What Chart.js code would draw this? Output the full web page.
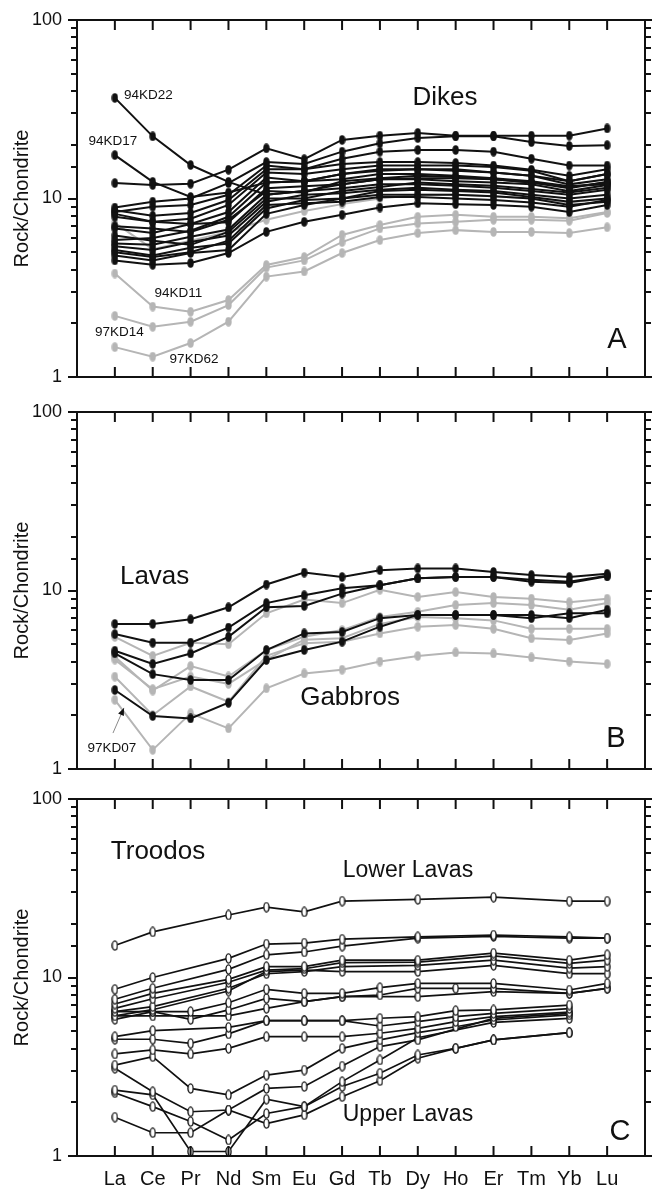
<!DOCTYPE html>
<html><head><meta charset="utf-8">
<script src="https://cdn.jsdelivr.net/npm/chart.js@4/dist/chart.umd.min.js"></script>
<style>
html,body{margin:0;padding:0;background:#fff;}
#wrap{position:relative;width:652px;height:1191px;overflow:hidden;background:#fff;}
.pn{position:absolute;left:0;width:652px;}
canvas{display:block;}
</style></head><body>
<div id="wrap">
<div class="pn" style="top:0;height:392px"><canvas id="cA" width="652" height="392"></canvas></div>
<div class="pn" style="top:392px;height:390px"><canvas id="cB" width="652" height="390"></canvas></div>
<div class="pn" style="top:782px;height:409px"><canvas id="cC" width="652" height="409"></canvas></div>
</div>
<script>
// ---------- categories / ticks ----------
const REE = ['La','Ce','Pr','Nd','Sm','Eu','Gd','Tb','Dy','Ho','Er','Tm','Yb','Lu'];
const Y_LABELS = [1, 10, 100];

// ---------- Panel A : Dikes ----------
const dikesBlack = [
  [36.6, 22.3, 15.4, 12.4, 10.5, 11.0, 12.0, 12.8, 13.0, 13.0, 12.8, 12.3, 11.6, 12.3], // 94KD22
  [17.5, 12.4, 10.2, 10.8, 12.3, 12.5, 13.7, 14.3, 14.6, 14.3, 14.0, 13.4, 12.5, 13.7], // 94KD17
  [12.2, 11.9, 12.1, 14.5, 19.1, 16.6, 21.3, 22.5, 23.3, 22.5, 22.5, 22.5, 22.5, 24.7],
  [8.9, 9.6, 10.0, 12.2, 16.0, 15.6, 18.3, 20.4, 21.8, 22.3, 22.3, 20.7, 19.7, 19.9],
  [8.4, 9.0, 9.2, 10.5, 15.3, 14.6, 16.7, 18.3, 18.7, 18.7, 18.3, 16.7, 15.3, 15.3],
  [8.6, 8.0, 8.3, 9.8, 14.6, 14.6, 15.6, 16.0, 16.0, 15.8, 15.3, 14.5, 13.4, 14.6],
  [8.2, 7.4, 7.7, 9.2, 14.0, 13.7, 14.6, 15.3, 15.3, 15.3, 15.0, 14.3, 12.5, 13.7],
  [6.8, 6.4, 7.2, 8.4, 13.1, 12.5, 13.7, 14.6, 14.6, 14.6, 14.0, 13.4, 12.0, 12.8],
  [5.85, 6.0, 6.6, 7.9, 12.3, 12.5, 12.8, 13.7, 13.7, 13.4, 13.0, 12.5, 11.7, 12.0],
  [7.9, 7.4, 7.2, 7.35, 11.4, 11.7, 12.0, 12.8, 12.8, 12.5, 12.3, 12.0, 11.0, 11.9],
  [5.6, 5.5, 6.1, 6.7, 10.5, 11.0, 11.4, 12.0, 12.0, 11.8, 11.5, 11.0, 10.5, 11.2],
  [5.4, 5.15, 5.7, 6.2, 9.6, 10.5, 10.7, 11.2, 11.5, 11.2, 11.0, 10.5, 10.0, 10.5],
  [5.15, 4.8, 5.3, 5.6, 8.8, 9.8, 10.0, 11.0, 11.2, 11.0, 10.8, 10.2, 9.6, 10.0],
  [4.8, 4.5, 4.95, 5.15, 8.2, 9.2, 10.0, 10.5, 10.5, 10.5, 10.3, 10.0, 9.2, 9.6],
  [4.5, 4.25, 4.35, 4.95, 6.5, 7.4, 8.1, 8.9, 9.4, 9.3, 9.2, 9.0, 8.4, 9.2],
  [6.2, 5.8, 5.5, 6.5, 10.0, 10.0, 11.0, 11.6, 12.3, 12.0, 11.8, 11.3, 10.8, 11.5],
  [7.0, 6.8, 6.5, 7.6, 11.0, 10.8, 12.5, 13.0, 13.4, 13.2, 12.8, 12.3, 11.4, 12.4],
  [5.0, 4.7, 5.0, 5.8, 9.2, 9.4, 9.6, 10.2, 10.2, 10.0, 9.8, 9.5, 9.0, 9.8]
];
const dikesGrey = [
  [3.8, 2.48, 2.32, 2.7, 4.24, 4.7, 6.25, 7.1, 7.9, 8.1, 7.9, 7.9, 7.75, 8.4],   // 94KD11
  [2.2, 1.91, 2.04, 2.53, 4.1, 4.5, 5.7, 6.8, 7.25, 7.4, 7.6, 7.6, 7.5, 8.3],     // 97KD14
  [1.47, 1.30, 1.55, 2.04, 3.65, 3.9, 4.95, 5.85, 6.4, 6.65, 6.5, 6.5, 6.4, 6.9], // 97KD62
  [7.3, 5.2, 5.8, 6.5, 7.6, 8.5, 9.3, 10.0, 10.5, 10.5, 10.3, 10.0, 9.5, 10.0]
];

// ---------- Panel B : Lavas (black) & Gabbros (grey) ----------
const lavasBlack = [
  [6.5, 6.5, 6.9, 8.05, 10.8, 12.6, 11.9, 13.0, 13.3, 13.3, 12.7, 12.2, 11.9, 12.4],
  [5.7, 5.1, 5.1, 6.2, 8.5, 9.4, 10.3, 10.7, 11.7, 11.9, 11.9, 11.5, 11.2, 12.1],
  [4.6, 3.88, 4.44, 5.5, 8.05, 8.2, 9.6, 10.7, 11.7, 11.9, 11.9, 11.2, 11.0, 12.0],
  [4.45, 3.4, 3.15, 3.15, 4.64, 5.75, 5.86, 7.0, 7.3, 7.3, 7.3, 7.3, 7.0, 7.8],
  [2.77, 1.98, 1.92, 2.35, 4.08, 4.64, 5.17, 6.27, 7.3, 7.3, 7.3, 7.0, 7.45, 7.45] // 97KD07
];
const gabbrosGrey = [
  [5.5, 4.3, 5.1, 5.0, 7.45, 8.9, 8.5, 10.1, 9.2, 9.8, 9.2, 9.0, 8.6, 9.0],
  [4.25, 2.75, 3.77, 3.3, 4.64, 5.5, 6.0, 7.1, 7.6, 8.3, 8.5, 8.3, 7.8, 8.5],
  [3.29, 2.0, 2.9, 2.38, 4.3, 5.06, 5.17, 5.75, 6.27, 6.4, 6.1, 5.4, 5.28, 5.75],
  [4.1, 2.8, 3.3, 3.0, 4.1, 5.3, 5.4, 6.5, 7.1, 7.0, 6.8, 6.1, 6.1, 6.1],
  [2.44, 1.28, 2.05, 1.69, 2.83, 3.43, 3.6, 4.0, 4.3, 4.5, 4.44, 4.22, 4.0, 3.88]
];

// ---------- Panel C : Troodos ----------
const troodos = [
  [15.1, 18.0, null, 22.4, 24.8, 23.3, 26.8, null, 27.4, null, 28.2, null, 26.8, 26.8],
  [8.59, 10.0, null, 12.8, 15.4, 15.6, 16.4, null, 16.9, null, 17.3, null, 16.9, 16.6],
  [7.55, 8.7, null, 11.1, 13.4, 13.9, 15.0, null, 16.6, null, 17.0, null, 16.6, 16.6],
  [7.10, 8.15, null, 9.77, 11.5, 11.5, 12.5, null, 12.5, null, 13.7, null, 12.5, 13.4],
  [6.72, 7.6, null, 9.4, 11.0, 11.2, 12.1, null, 12.2, null, 13.2, null, 12.0, 12.5],
  [6.44, 6.87, null, 8.70, 10.5, 10.8, 11.5, null, 11.7, null, 12.5, null, 11.3, 11.5],
  [6.09, 6.6, null, 8.4, 10.8, 11.0, 10.8, null, 10.8, null, 11.7, null, 10.5, 10.5],
  [5.83, 6.44, 6.44, 7.22, 8.59, 8.15, 8.15, 8.77, 9.27, null, 9.27, null, 8.51, 9.27],
  [6.44, 6.44, 5.83, 6.58, 7.64, 7.32, 7.81, 7.98, 8.70, 8.70, 8.70, null, 8.15, 8.70],
  [6.09, 6.09, null, 6.09, 6.72, 7.32, 7.81, null, 7.81, null, 8.33, null, 8.15, 8.70],
  [4.66, 5.04, null, 5.26, 5.73, 5.73, 5.73, 5.91, 6.03, 6.52, 6.58, null, 7.01, null],
  [4.51, 4.51, 4.28, 4.83, 5.73, 5.73, 5.73, 5.35, 5.66, 6.03, 6.30, null, 6.7, null],
  [3.73, 3.93, 3.73, 4.01, 4.66, 4.66, 4.66, 4.87, 5.19, 5.66, 6.03, null, 6.4, null],
  [3.23, 3.60, 2.39, 2.20, 2.84, 3.03, 4.01, 4.47, 4.91, 5.30, 5.78, null, 6.17, null],
  [3.10, 2.29, 1.77, 1.81, 2.39, 2.45, 3.19, 4.10, 4.47, null, 5.9, null, 6.3, null],
  [2.34, 2.20, 1.06, 1.06, 2.08, 1.89, 2.61, 3.45, 4.6, null, 5.6, null, 5.9, null],
  [2.26, 1.89, 1.56, 1.23, 1.73, 1.89, 2.45, 2.91, 3.68, 4.01, 4.47, null, 4.91, null],
  [1.65, 1.35, 1.35, 1.81, 1.52, 1.70, 2.15, 2.64, 3.53, 4.01, 4.47, null, 4.91, null]
];

// ---------- styling helpers ----------
const FONT = '"Liberation Sans", Arial, Helvetica, sans-serif';
const INK = '#111111';
const GREY = '#b5b5b5';

function ellipseMarker(w, h, fill, stroke, lw) {
  const c = document.createElement('canvas');
  c.width = w; c.height = h;
  const g = c.getContext('2d');
  g.beginPath();
  const inset = stroke ? lw / 2 + 0.3 : 0.3;
  g.ellipse(w / 2, h / 2, w / 2 - inset, h / 2 - inset, 0, 0, Math.PI * 2);
  g.fillStyle = fill; g.fill();
  if (stroke) { g.lineWidth = lw; g.strokeStyle = stroke; g.stroke(); }
  return c;
}
const MK_BLACK = ellipseMarker(7, 10, INK);
const MK_GREY = ellipseMarker(7, 10, GREY);
const MK_OPEN = ellipseMarker(7, 11, '#ffffff', INK, 1.3);

function series(rows, color, marker, width) {
  return rows.map(r => ({
    data: r.map((v, i) => ({ x: i, y: v })),
    borderColor: color,
    backgroundColor: color,
    borderWidth: width,
    pointStyle: marker,
    pointRadius: 3,
    pointHoverRadius: 3,
    tension: 0,
    spanGaps: true,
    fill: false
  }));
}

const framePlugin = {
  id: 'frame',
  afterDatasetsDraw(chart) {
    const { ctx, chartArea: a, scales } = chart;
    const xs = scales.x, ys = scales.y;
    ctx.save();
    ctx.strokeStyle = INK; ctx.lineWidth = 2; ctx.lineCap = 'butt';
    ctx.beginPath();
    ys.ticks.forEach(t => {
      const y = Math.round(ys.getPixelForValue(t.value));
      const major = Y_LABELS.some(m => Math.abs(m - t.value) < 1e-6);
      const len = major ? 9 : 6;
      ctx.moveTo(a.left - len, y); ctx.lineTo(a.left, y);
      ctx.moveTo(a.right, y); ctx.lineTo(a.right + len, y);
    });
    REE.forEach((_, i) => {
      const x = xs.getPixelForValue(i);
      ctx.moveTo(x, a.top); ctx.lineTo(x, a.top + 10);
      ctx.moveTo(x, a.bottom); ctx.lineTo(x, a.bottom - 10);
    });
    ctx.stroke();
    ctx.strokeRect(a.left, a.top, a.right - a.left, a.bottom - a.top);
    ctx.restore();
  }
};

const notesPlugin = {
  id: 'notes',
  afterDraw(chart, args, opts) {
    const { ctx, chartArea: a, scales } = chart;
    const xs = scales.x, ys = scales.y;
    ctx.save();
    ctx.fillStyle = INK;
    (opts.items || []).forEach(it => {
      ctx.font = it.size + 'px ' + FONT;
      ctx.textAlign = it.align || 'center';
      let x, y;
      if (it.corner) {
        x = a.right - it.dx; y = a.bottom - it.dy; ctx.textBaseline = 'alphabetic';
      } else {
        x = xs.getPixelForValue(it.x); y = ys.getPixelForValue(it.y); ctx.textBaseline = 'middle';
      }
      ctx.fillText(it.text, x, y);
    });
    (opts.arrows || []).forEach(ar => {
      const x1 = xs.getPixelForValue(ar.from[0]), y1 = ys.getPixelForValue(ar.from[1]);
      const x2 = xs.getPixelForValue(ar.to[0]), y2 = ys.getPixelForValue(ar.to[1]);
      ctx.strokeStyle = '#8a8a8a'; ctx.lineWidth = 1;
      ctx.beginPath(); ctx.moveTo(x1, y1); ctx.lineTo(x2, y2); ctx.stroke();
      const ang = Math.atan2(y2 - y1, x2 - x1);
      ctx.fillStyle = INK;
      ctx.beginPath();
      ctx.moveTo(x2, y2);
      ctx.lineTo(x2 - 8 * Math.cos(ang - 0.4), y2 - 8 * Math.sin(ang - 0.4));
      ctx.lineTo(x2 - 8 * Math.cos(ang + 0.4), y2 - 8 * Math.sin(ang + 0.4));
      ctx.closePath(); ctx.fill();
    });
    ctx.restore();
  }
};

function yScale() {
  return {
    type: 'logarithmic', min: 1, max: 100,
    afterFit(s) { s.width = 77; s.paddingTop = 0; s.paddingBottom = 0; },
    grid: { display: false, drawTicks: false },
    border: { display: false },
    ticks: {
      autoSkip: false, padding: 15, color: INK,
      font: { family: FONT, size: 18 },
      callback: v => (Y_LABELS.some(m => Math.abs(m - v) < 1e-6) ? String(Math.round(v)) : '')
    },
    title: { display: true, text: 'Rock/Chondrite', color: INK,
      font: { family: FONT, size: 20 }, padding: { top: 10, bottom: 0 } }
  };
}

function xScale(showLabels) {
  if (!showLabels) return { type: 'linear', min: -1, max: 14, display: false };
  return {
    type: 'linear', min: -1, max: 14,
    afterFit(s) { s.height = 35; s.paddingLeft = 0; s.paddingRight = 0; },
    grid: { display: false, drawTicks: false },
    border: { display: false },
    ticks: {
      stepSize: 1, autoSkip: false, maxRotation: 0, padding: 11, color: INK,
      font: { family: FONT, size: 20 },
      callback: v => (REE[v] !== undefined ? REE[v] : '')
    }
  };
}

function makeChart(id, datasets, padding, showX, notes) {
  return new Chart(document.getElementById(id), {
    type: 'line',
    data: { datasets },
    options: {
      responsive: false, animation: false, events: [],
      layout: { padding },
      scales: { x: xScale(showX), y: yScale() },
      plugins: { legend: { display: false }, tooltip: { enabled: false }, notes }
    },
    plugins: [framePlugin, notesPlugin]
  });
}

// Panel A
makeChart('cA',
  [...series(dikesBlack, INK, MK_BLACK, 2), ...series(dikesGrey, GREY, MK_GREY, 2)],
  { top: 20, bottom: 15, left: 0, right: 7 }, false,
  { items: [
    { text: 'Dikes', x: 8.72, y: 36.6, size: 26 },
    { text: '94KD22', x: 0.24, y: 38.0, size: 13.5, align: 'left' },
    { text: '94KD17', x: -0.05, y: 21.0, size: 13.5 },
    { text: '94KD11', x: 1.68, y: 2.96, size: 13.5 },
    { text: '97KD14', x: 0.12, y: 1.79, size: 13.5 },
    { text: '97KD62', x: 2.09, y: 1.26, size: 13.5 },
    { text: 'A', corner: true, dx: 28, dy: 29, size: 29 }
  ] });

// Panel B
makeChart('cB',
  [...series(lavasBlack, INK, MK_BLACK, 2), ...series(gabbrosGrey, GREY, MK_GREY, 2)],
  { top: 20, bottom: 13, left: 0, right: 7 }, false,
  { items: [
    { text: 'Lavas', x: 1.05, y: 11.9, size: 26 },
    { text: 'Gabbros', x: 6.21, y: 2.5, size: 26 },
    { text: '97KD07', x: -0.08, y: 1.31, size: 13.5 },
    { text: 'B', corner: true, dx: 29, dy: 22, size: 29 }
  ],
    arrows: [ { from: [-0.05, 1.59], to: [0.24, 2.2] } ] });

// Panel C
makeChart('cC',
  series(troodos, INK, MK_OPEN, 1.7),
  { top: 17, bottom: 0, left: 0, right: 7 }, true,
  { items: [
    { text: 'Troodos', x: 1.14, y: 50.5, size: 26 },
    { text: 'Lower Lavas', x: 7.74, y: 39.5, size: 23 },
    { text: 'Upper Lavas', x: 7.74, y: 1.70, size: 23 },
    { text: 'C', corner: true, dx: 25, dy: 16, size: 29 }
  ] });
</script>
</body></html>
